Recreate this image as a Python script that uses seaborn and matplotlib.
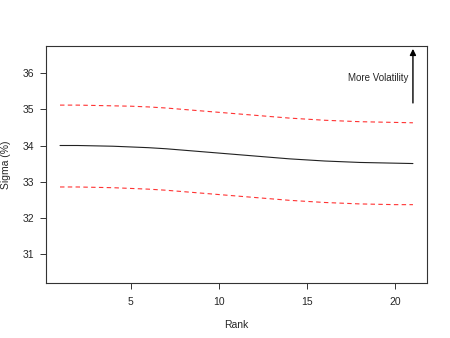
import numpy as np
import pandas as pd
import matplotlib
matplotlib.use("Agg")
import matplotlib.pyplot as plt
import seaborn as sns

# values
rank = list(range(1, 22))
sigma = [34.00, 34.00, 33.99, 33.98, 33.96, 33.94, 33.91, 33.87, 33.83, 33.79, 33.75,
         33.71, 33.67, 33.63, 33.60, 33.57, 33.55, 33.53, 33.52, 33.51, 33.50]
upper = [35.12, 35.12, 35.11, 35.10, 35.09, 35.07, 35.04, 35.00, 34.96, 34.92, 34.88,
         34.84, 34.80, 34.76, 34.73, 34.70, 34.68, 34.66, 34.65, 34.64, 34.63]
lower = [32.85, 32.85, 32.84, 32.83, 32.81, 32.79, 32.76, 32.72, 32.68, 32.64, 32.60,
         32.56, 32.52, 32.48, 32.45, 32.42, 32.40, 32.38, 32.37, 32.36, 32.36]
xticks = [5, 10, 15, 20]
yticks = [31, 32, 33, 34, 35, 36]

df = pd.DataFrame({"rank": rank, "sigma": sigma, "upper": upper, "lower": lower})

sns.set_theme(style="white")
plt.rcParams["font.family"] = ["Liberation Sans", "DejaVu Sans"]

fig = plt.figure(figsize=(4.5, 3.38), dpi=100)
ax = fig.add_axes([0.102, 0.163, 0.847, 0.701])

sns.lineplot(data=df, x="rank", y="sigma", color="#222222", linewidth=0.8, ax=ax)
sns.lineplot(data=df, x="rank", y="upper", color="#ff3333", linewidth=0.8, ax=ax)
sns.lineplot(data=df, x="rank", y="lower", color="#ff3333", linewidth=0.8, ax=ax)
for ln in ax.lines[1:]:
    ln.set_dashes((4, 3))

# arrow with label
ax.annotate("", xy=(21, 36.68), xytext=(21, 35.18),
            arrowprops=dict(arrowstyle="-|>", color="black", lw=1.0,
                            mutation_scale=9, shrinkA=0, shrinkB=0))
ax.text(20.75, 35.87, "More Volatility", ha="right", va="center", fontsize=7)

ax.set_xlim(0.2, 21.8)
ax.set_ylim(30.19, 36.76)
ax.set_xticks(xticks)
ax.set_yticks(yticks)
ax.set_xlabel("Rank", fontsize=7.5, labelpad=9)
ax.set_ylabel("Sigma (%)", fontsize=7.5, labelpad=8)
ax.tick_params(axis="both", labelsize=7.5, length=4.5, width=0.7, color="#333333",
               direction="out", bottom=True, left=True, pad=4)
ax.tick_params(axis="x", pad=6)
for s in ax.spines.values():
    s.set_color("#333333")
    s.set_linewidth(0.8)

fig.savefig("out.png", dpi=100)
